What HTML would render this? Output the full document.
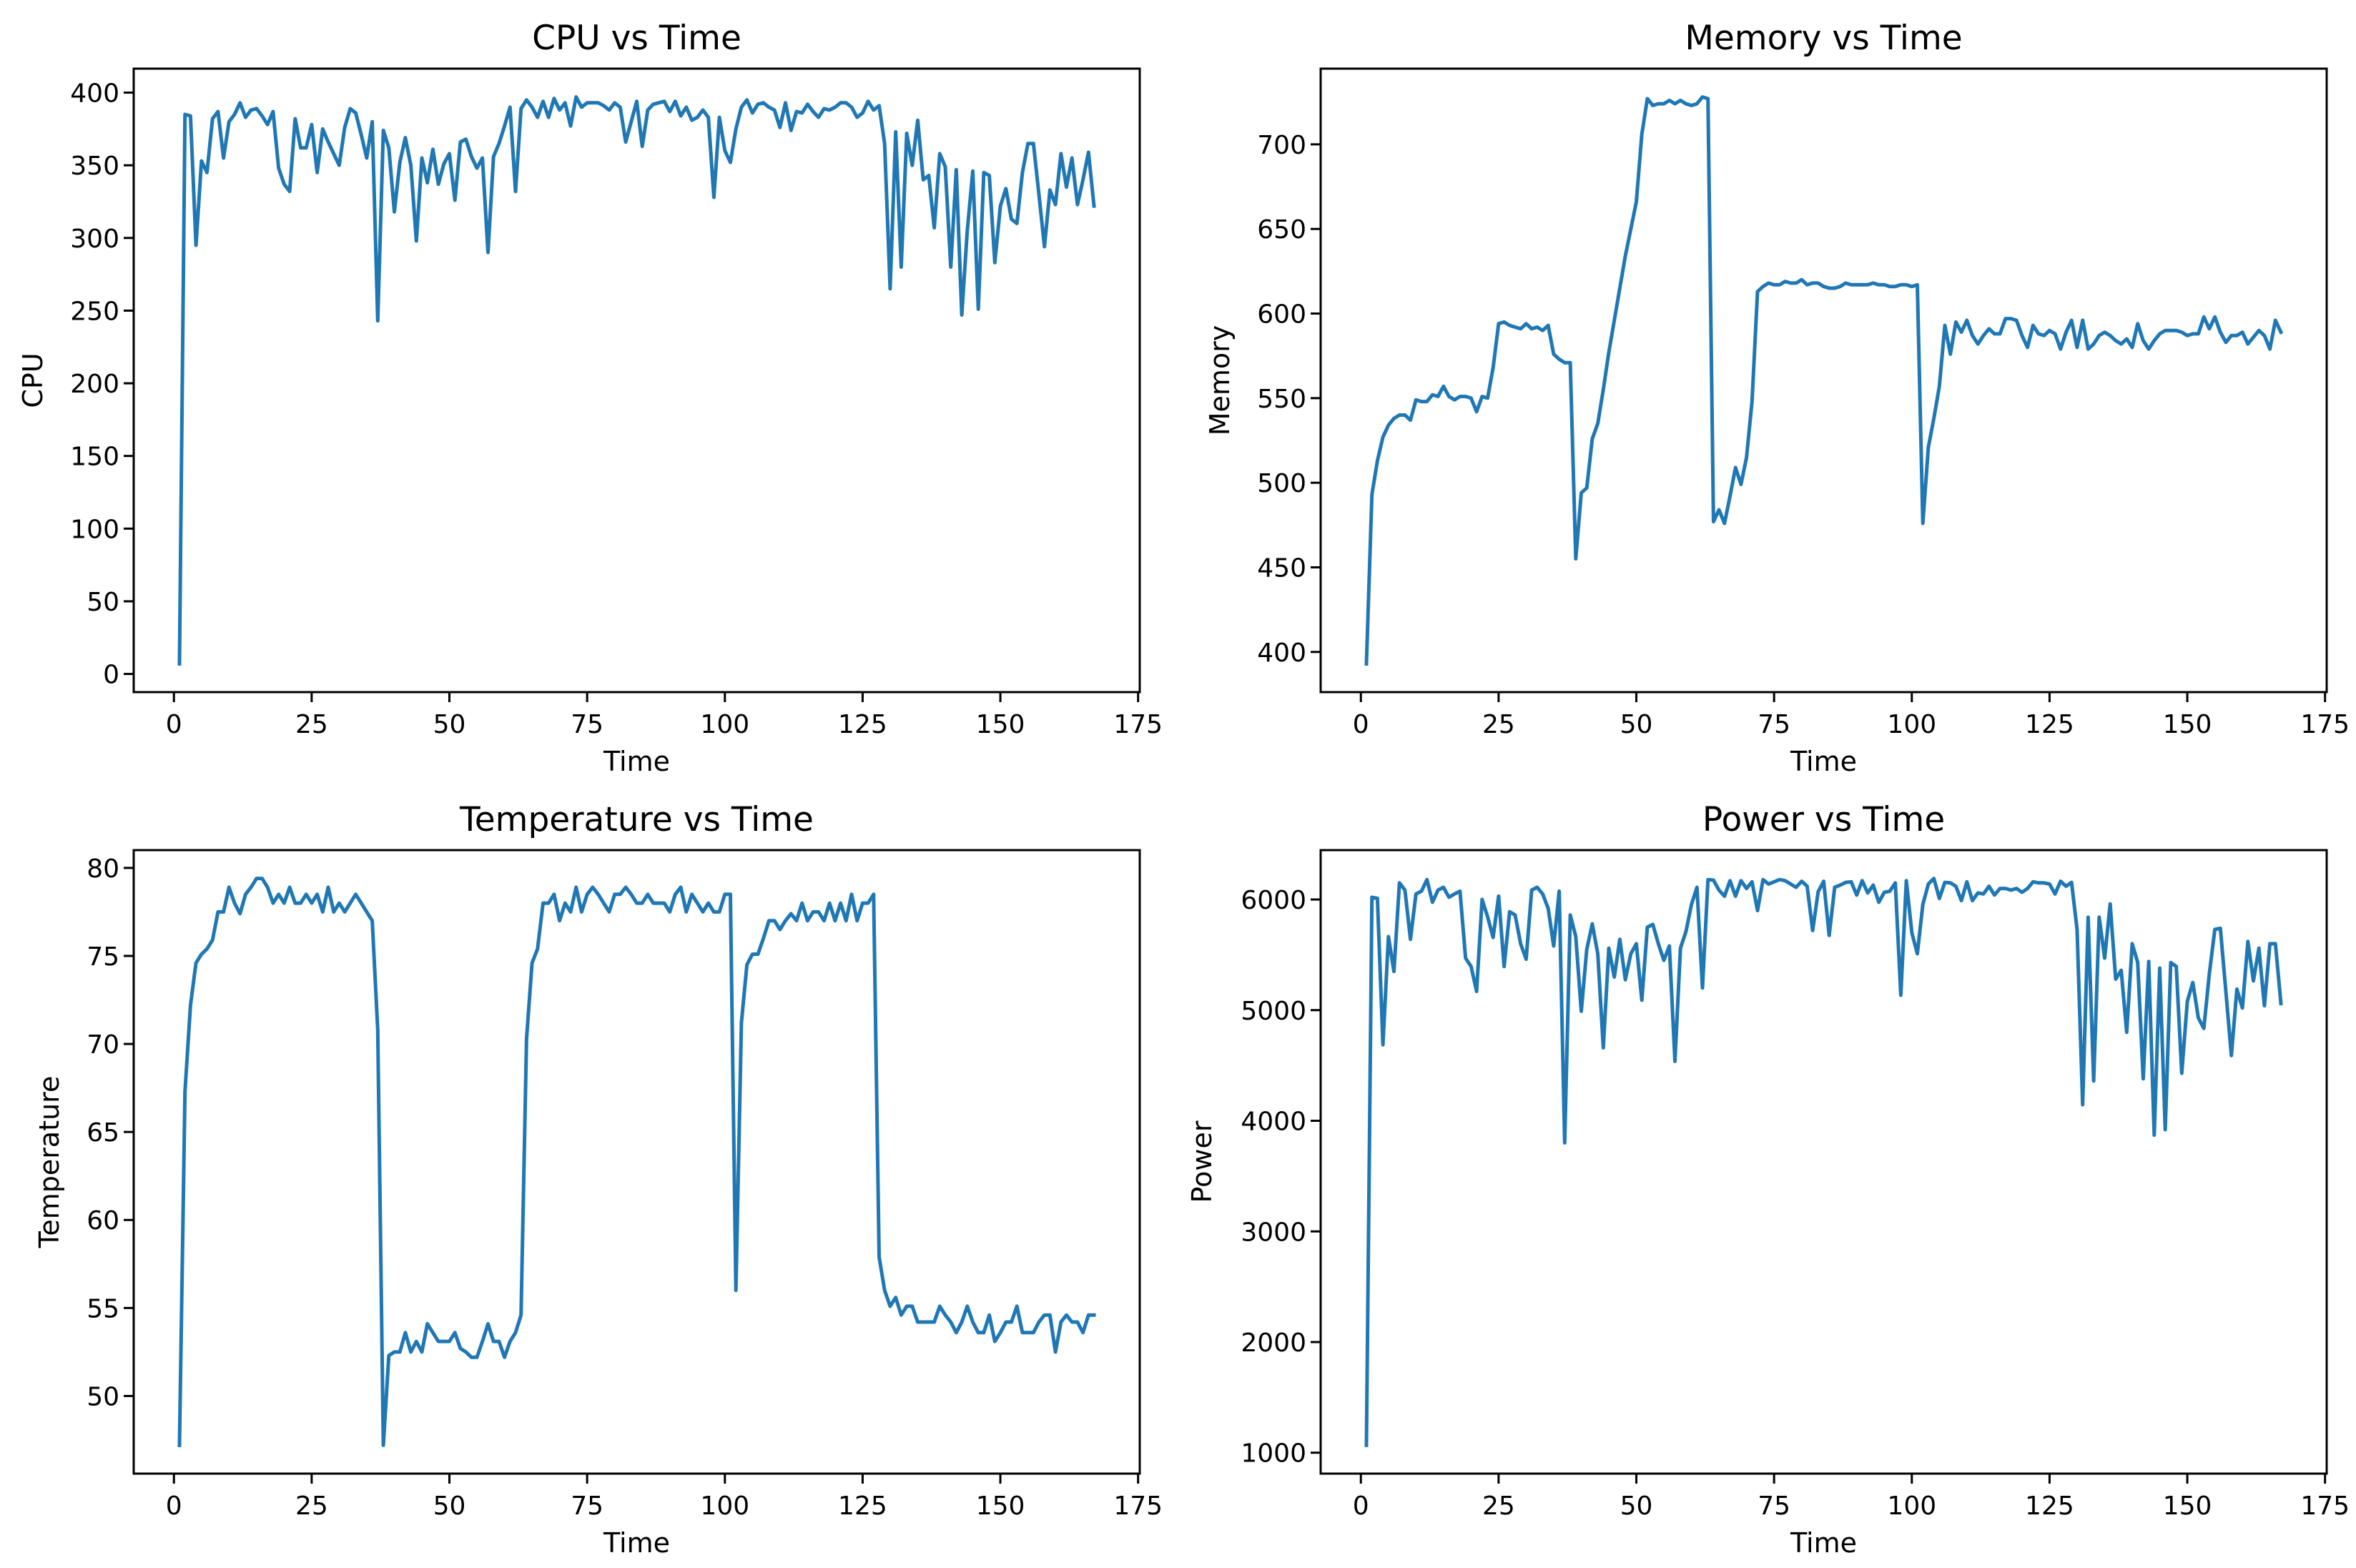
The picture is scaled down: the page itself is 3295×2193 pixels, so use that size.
<!DOCTYPE html>
<html><head><meta charset="utf-8"><title>System metrics vs time</title>
<style>
html,body{margin:0;padding:0;background:#fff;}
svg{display:block;font-family:"DejaVu Sans","Liberation Sans",sans-serif;}
</style></head>
<body>
<svg id="fig" width="3295" height="2193" viewBox="0 0 3295 2193" xmlns="http://www.w3.org/2000/svg">
<rect x="0" y="0" width="3295" height="2193" fill="#fff"/>
</svg>
<script>
const cpuValues = [7,385,384,295,353,345,382,387,355,380,385,393,383,388,389,384,378,387,348,337,332,382,362,362,378,345,375,366,358,350,376,389,386,371,355,380,243,374,362,318,352,369,350,298,355,338,361,337,351,358,326,366,368,356,348,355,290,356,365,377,390,332,389,395,390,383,394,383,396,388,393,377,397,390,393,393,393,391,388,393,390,366,380,394,363,388,392,393,394,387,394,384,390,381,383,388,383,328,383,360,352,375,390,395,386,392,393,390,388,376,393,374,387,386,392,387,383,389,388,390,393,393,390,383,386,394,388,391,365,265,373,280,372,350,381,340,343,307,358,349,280,347,247,305,346,251,345,343,283,322,334,313,310,345,365,365,330,294,333,323,358,335,355,323,340,359,322];
const memoryValues = [393,493,513,527,534,538,540,540,537,549,548,548,552,551,557,551,549,551,551,550,542,551,550,568,594,595,593,592,591,594,591,592,590,593,576,573,571,571,455,494,497,526,535,555,577,596,615,634,650,666,706,727,723,724,724,726,724,726,724,723,724,728,727,477,484,476,492,509,499,515,548,613,616,618,617,617,619,618,618,620,617,618,618,616,615,615,616,618,617,617,617,617,618,617,617,616,616,617,617,616,617,476,521,538,557,593,576,595,589,596,587,582,587,591,588,588,597,597,596,587,580,593,588,587,590,588,579,589,596,580,596,579,582,587,589,587,584,582,585,580,594,584,579,584,588,590,590,590,589,587,588,588,598,591,598,589,583,587,587,589,582,586,590,587,579,596,589];
const temperatureValues = [47.2,67.3,72.2,74.6,75.1,75.4,75.9,77.5,77.5,78.9,78.0,77.4,78.5,78.9,79.4,79.4,78.9,78.0,78.5,78.0,78.9,78.0,78.0,78.5,78.0,78.5,77.5,78.9,77.5,78.0,77.5,78.0,78.5,78.0,77.5,77.0,70.8,47.2,52.3,52.5,52.5,53.6,52.5,53.1,52.5,54.1,53.6,53.1,53.1,53.1,53.6,52.7,52.5,52.2,52.2,53.1,54.1,53.1,53.1,52.2,53.1,53.6,54.6,70.3,74.6,75.4,78.0,78.0,78.5,77.0,78.0,77.5,78.9,77.5,78.5,78.9,78.5,78.0,77.5,78.5,78.5,78.9,78.5,78.0,78.0,78.5,78.0,78.0,78.0,77.5,78.5,78.9,77.5,78.5,78.0,77.5,78.0,77.5,77.5,78.5,78.5,56.0,71.2,74.5,75.1,75.1,76.0,77.0,77.0,76.5,77.0,77.4,77.0,78.0,77.0,77.5,77.5,77.0,78.0,77.0,78.0,77.0,78.5,77.0,78.0,78.0,78.5,57.9,56.0,55.1,55.6,54.6,55.1,55.1,54.2,54.2,54.2,54.2,55.1,54.6,54.2,53.6,54.2,55.1,54.2,53.6,53.6,54.6,53.1,53.6,54.2,54.2,55.1,53.6,53.6,53.6,54.2,54.6,54.6,52.5,54.2,54.6,54.2,54.2,53.6,54.6,54.6];
const powerValues = [1067,6020,6010,4687,5664,5350,6150,6085,5640,6050,6075,6180,5975,6085,6110,6020,6050,6075,5470,5395,5170,6000,5843,5657,6030,5395,5890,5860,5600,5460,6085,6110,6050,5920,5580,6075,3800,5860,5665,4990,5550,5780,5510,4660,5560,5300,5640,5275,5510,5600,5090,5750,5775,5600,5450,5580,4537,5560,5710,5955,6110,5200,6180,6175,6085,6030,6170,6030,6170,6100,6160,5900,6180,6140,6160,6180,6170,6140,6110,6165,6120,5720,6070,6165,5675,6110,6130,6155,6160,6040,6170,6060,6130,5975,6065,6075,6150,5135,6170,5700,5510,5955,6140,6190,6010,6155,6150,6120,5990,6160,5990,6060,6050,6120,6040,6100,6100,6085,6100,6065,6100,6160,6150,6150,6140,6050,6165,6120,6155,5730,4145,5840,4360,5840,5470,5960,5280,5360,4800,5600,5430,4380,5440,3870,5380,3920,5430,5395,4430,5080,5250,4930,4835,5330,5730,5740,5170,4590,5190,5020,5620,5265,5560,5040,5600,5600,5060];
const xTicks = [0,25,50,75,100,125,150,175];
const cpuTicks = [0,50,100,150,200,250,300,350,400];
const memoryTicks = [400,450,500,550,600,650,700];
const temperatureTicks = [50,55,60,65,70,75,80];
const powerTicks = [1000,2000,3000,4000,5000,6000];

const NS = "http://www.w3.org/2000/svg";
const svg = document.getElementById('fig');
function mk(tag, attrs, parent){
  const e = document.createElementNS(NS, tag);
  for (const k in attrs) e.setAttribute(k, attrs[k]);
  (parent||svg).appendChild(e);
  return e;
}
function drawPanel(cfg){
  const L=cfg.left, T=cfg.top, W=1407, H=872;
  const vals = cfg.values;
  const times = vals.map((v,i)=>i+1);
  const tmin=Math.min(...times), tmax=Math.max(...times), tr=tmax-tmin;
  const x0=tmin-0.05*tr, x1=tmax+0.05*tr;
  const vmin=Math.min(...vals), vmax=Math.max(...vals), vr=vmax-vmin;
  const y0=vmin-0.05*vr, y1=vmax+0.05*vr;
  const sx = t => L + (t-x0)/(x1-x0)*W;
  const sy = v => T + H - (v-y0)/(y1-y0)*H;
  const g = mk('g', {});
  
  
  const title = mk('text', {x:L+W/2, y:T-27, 'font-size':47, 'text-anchor':'middle', fill:'#000'}, g);
  title.textContent = cfg.title;
  
  
  const line = mk('polyline', {points: vals.map((v,i)=>sx(times[i]).toFixed(1)+','+sy(v).toFixed(1)).join(' '), fill:'none', stroke:'#1f77b4', 'stroke-width':5, 'stroke-linejoin':'round', 'stroke-linecap':'square'}, g);
  
  
  const frame = mk('rect', {x:L, y:T, width:W, height:H, fill:'none', stroke:'#000', 'stroke-width':3}, g);
  
  
  xTicks.forEach(t=>{
    const x=sx(t);
    mk('line', {x1:x, y1:T+H, x2:x, y2:T+H+14, stroke:'#000', 'stroke-width':3}, g);
    const lab = mk('text', {x:x, y:T+H+57, 'font-size':36, 'text-anchor':'middle', fill:'#000'}, g);
    lab.textContent = t;
    
    
  });
  cfg.ticks.forEach(v=>{
    const y=sy(v);
    mk('line', {x1:L-14, y1:y, x2:L, y2:y, stroke:'#000', 'stroke-width':3}, g);
    const lab = mk('text', {x:L-20, y:y+13, 'font-size':36, 'text-anchor':'end', fill:'#000'}, g);
    lab.textContent = v;
    
    
  });
  const xl = mk('text', {x:L+W/2, y:T+H+110, 'font-size':38, 'text-anchor':'middle', fill:'#000'}, g);
  xl.textContent = 'Time';
  
  
  const yl = mk('text', {x:0, y:0, 'font-size':38, 'text-anchor':'middle', fill:'#000', transform:'translate('+(cfg.ylx+13)+','+(T+H/2)+') rotate(-90)'}, g);
  yl.textContent = cfg.ylabel;
  
  
}
drawPanel({name:'cpu', title:'CPU vs Time', ylabel:'CPU', values:cpuValues, ticks:cpuTicks, left:187, top:96, ylx:46});
drawPanel({name:'memory', title:'Memory vs Time', ylabel:'Memory', values:memoryValues, ticks:memoryTicks, left:1847, top:96, ylx:1706});
drawPanel({name:'temperature', title:'Temperature vs Time', ylabel:'Temperature', values:temperatureValues, ticks:temperatureTicks, left:187, top:1189, ylx:69});
drawPanel({name:'power', title:'Power vs Time', ylabel:'Power', values:powerValues, ticks:powerTicks, left:1847, top:1189, ylx:1681});
</script>
</body></html>
